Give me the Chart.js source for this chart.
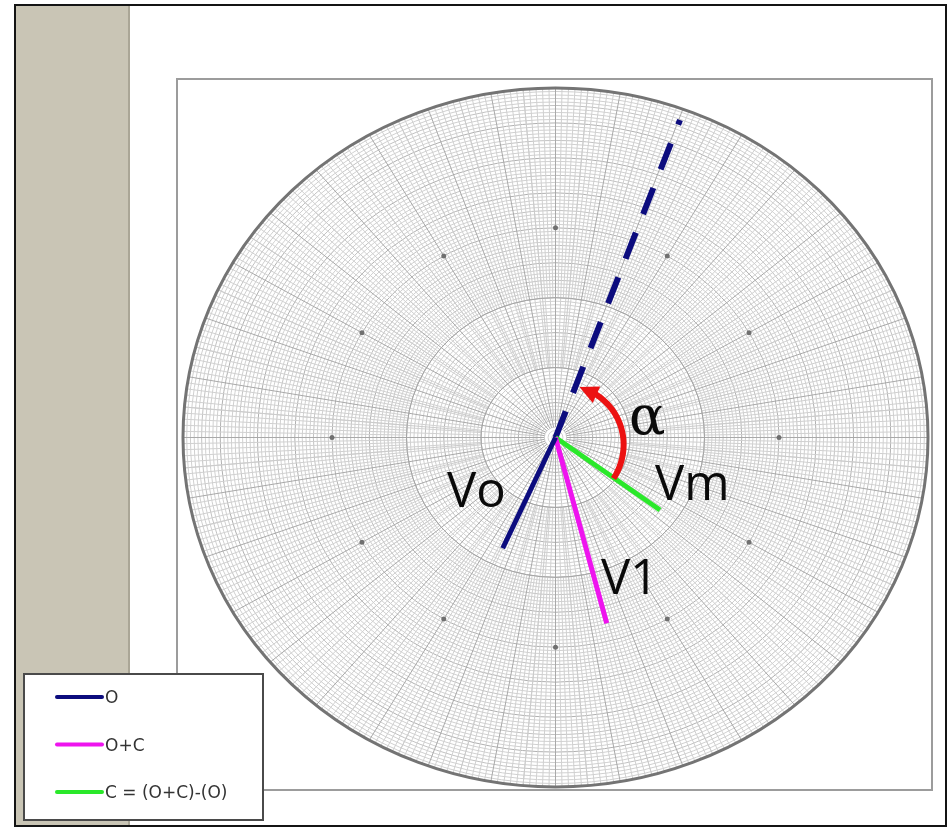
<!DOCTYPE html>
<html>
<head>
<meta charset="utf-8">
<script src="https://cdn.jsdelivr.net/npm/chart.js@4/dist/chart.umd.min.js"></script>
<style>
  html, body { margin: 0; padding: 0; background: #fff; width: 951px; height: 827px; overflow: hidden; }
  #frame { position: absolute; left: 14px; top: 4px; width: 929px; height: 819px; border: 2px solid #141414; }
  #side { position: absolute; left: 16px; top: 6px; width: 112px; height: 819px; background: #c9c5b5; border-right: 2px solid #aaa696; }
  #plotbox { position: absolute; left: 176px; top: 78px; width: 753px; height: 709px; border: 2px solid #9c9c9c; }
  canvas { position: absolute; left: 0; top: 0; }
</style>
</head>
<body>
<div id="frame"></div>
<div id="side"></div>
<div id="plotbox"></div>
<canvas id="polar" width="951" height="827"></canvas>
<script>
// Vectors, as magnitude (fraction of the outer circle) and angle (degrees, counter-clockwise from +x)
const vectorNames = ['O', 'O+C', 'C = (O+C)-(O)'];
const vectorMagnitudes = [0.347, 0.549, 0.349];
const vectorAnglesDeg = [245.9, 284.5, 323.5];
const vectorColors = ['#0c0c7e', '#ee14ee', '#2ae82a'];

// Dashed reference direction
const referenceMagnitude = 0.968;
const referenceAngleDeg = 69.8;

// Angle α arc: start/end angle and radius at each end
const alphaArcDeg = [-37, 66];
const alphaArcRadius = [0.195, 0.158];

// Vector labels
const labelTexts = ['Vo', 'Vm', 'V1', '\u03b1'];

// Polar grid layout
const ringStep = 0.01;
const dotRadius = 0.6;
const dotStepDeg = 30;

const rad = d => d * Math.PI / 180;
const tip = (m, a) => ({ x: m * Math.cos(rad(a)), y: m * Math.sin(rad(a)) });

const datasets = vectorNames.map((name, i) => ({
  label: name,
  data: [{ x: 0, y: 0 }, tip(vectorMagnitudes[i], vectorAnglesDeg[i])],
  borderColor: vectorColors[i],
  backgroundColor: vectorColors[i],
  borderWidth: 5,
  showLine: true,
  inLegend: true
}));
datasets.push({
  label: 'O (reference)',
  data: [{ x: 0, y: 0 }, tip(referenceMagnitude, referenceAngleDeg)],
  borderColor: vectorColors[0],
  borderWidth: 6,
  borderDash: [28, 20],
  showLine: true,
  inLegend: false
});

const labelStyle = {
  'Vo': { at: [-0.291, -0.199], font: '49px "Open Sans"' },
  'Vm': { at: [0.267, -0.179], font: '49px "Open Sans"' },
  'V1': { at: [0.122, -0.448], font: '49px "Open Sans"' },
  '\u03b1': { at: [0.197, 0.010], font: '54px "DejaVu Serif"' }
};

function frameOf(chart) {
  const xs = chart.scales.x, ys = chart.scales.y;
  const cx = xs.getPixelForValue(0), cy = ys.getPixelForValue(0);
  return {
    cx, cy,
    kx: xs.getPixelForValue(1) - cx,
    ky: cy - ys.getPixelForValue(1),
    px: (x, y) => [xs.getPixelForValue(x), ys.getPixelForValue(y)]
  };
}

const polarGrid = {
  id: 'polarGrid',
  beforeDatasetsDraw(chart) {
    const { ctx } = chart;
    const f = frameOf(chart);
    ctx.save();
    ctx.lineWidth = 1;

    // concentric rings
    const nRings = Math.round(1 / ringStep);
    const ringGroups = [
      ['#d0d0d0', i => i % 5 !== 0],
      ['#c2c2c2', i => i % 5 === 0 && i % 10 !== 0],
      ['#b0b0b0', i => i % 10 === 0]
    ];
    ringGroups.forEach(([color, test]) => {
      ctx.beginPath();
      for (let i = 1; i < nRings; i++) {
        if (!test(i)) continue;
        const r = i * ringStep;
        ctx.moveTo(f.cx + f.kx * r, f.cy);
        ctx.ellipse(f.cx, f.cy, f.kx * r, f.ky * r, 0, 0, Math.PI * 2);
      }
      ctx.strokeStyle = color;
      ctx.stroke();
    });

    // radial spokes: denser further out
    const spoke = (stepDeg, r0, r1, color, skip) => {
      ctx.beginPath();
      for (let a = 0; a < 360; a += stepDeg) {
        if (skip && a % skip === 0) continue;
        const c = Math.cos(rad(a)), s = Math.sin(rad(a));
        ctx.moveTo(f.cx + f.kx * r0 * c, f.cy - f.ky * r0 * s);
        ctx.lineTo(f.cx + f.kx * r1 * c, f.cy - f.ky * r1 * s);
      }
      ctx.strokeStyle = color;
      ctx.stroke();
    };
    spoke(1, 0.4, 1, '#d0d0d0', 2);
    spoke(2, 0.2, 1, '#d0d0d0', 10);
    spoke(5, 0.05, 1, '#cbcbcb', 10);
    spoke(10, 0.03, 1, '#a9a9a9', 0);

    // zone boundaries
    ctx.strokeStyle = '#a4a4a4';
    [0.2, 0.4].forEach(r => {
      ctx.beginPath();
      ctx.ellipse(f.cx, f.cy, f.kx * r, f.ky * r, 0, 0, Math.PI * 2);
      ctx.stroke();
    });

    // marker dots
    ctx.fillStyle = '#707070';
    for (let a = 0; a < 360; a += dotStepDeg) {
      ctx.beginPath();
      ctx.arc(f.cx + f.kx * dotRadius * Math.cos(rad(a)), f.cy - f.ky * dotRadius * Math.sin(rad(a)), 2.5, 0, Math.PI * 2);
      ctx.fill();
    }

    // outer circle
    ctx.beginPath();
    ctx.ellipse(f.cx, f.cy, f.kx, f.ky, 0, 0, Math.PI * 2);
    ctx.strokeStyle = '#747474';
    ctx.lineWidth = 3;
    ctx.stroke();
    ctx.restore();
  }
};

const annotations = {
  id: 'annotations',
  afterDatasetsDraw(chart) {
    const { ctx } = chart;
    const f = frameOf(chart);
    ctx.save();

    // α arc with arrowhead
    const [a0, a1] = alphaArcDeg, [r0, r1] = alphaArcRadius;
    const at = a => {
      const r = r0 + (r1 - r0) * (a - a0) / (a1 - a0);
      return f.px(r * Math.cos(rad(a)), r * Math.sin(rad(a)));
    };
    const headBase = a1 - 18;
    ctx.strokeStyle = '#ec1212';
    ctx.fillStyle = '#ec1212';
    ctx.lineWidth = 6;
    ctx.lineCap = 'butt';
    ctx.beginPath();
    for (let a = a0; a <= headBase + 2; a += 1) {
      const [x, y] = at(a);
      if (a === a0) ctx.moveTo(x, y); else ctx.lineTo(x, y);
    }
    ctx.stroke();
    const [bx, by] = at(headBase), [tx, ty] = at(a1);
    const dx = tx - bx, dy = ty - by, len = Math.hypot(dx, dy);
    const nx = -dy / len, ny = dx / len, w = 9;
    ctx.beginPath();
    ctx.moveTo(tx, ty);
    ctx.lineTo(bx + nx * w, by + ny * w);
    ctx.lineTo(bx - nx * w, by - ny * w);
    ctx.closePath();
    ctx.fill();

    // vector labels
    ctx.fillStyle = '#0a0a0a';
    ctx.textBaseline = 'alphabetic';
    ctx.textAlign = 'left';
    labelTexts.forEach(t => {
      const s = labelStyle[t];
      const [x, y] = f.px(s.at[0], s.at[1]);
      ctx.font = s.font;
      ctx.fillText(t, x, y);
    });
    ctx.restore();
  },
  afterDraw(chart) {
    // legend box
    const { ctx } = chart;
    ctx.save();
    ctx.fillStyle = '#fff';
    ctx.fillRect(24, 674, 239, 146);
    ctx.strokeStyle = '#4a4a4a';
    ctx.lineWidth = 2;
    ctx.strokeRect(24, 674, 239, 146);
    ctx.font = '17px "DejaVu Sans"';
    ctx.textBaseline = 'middle';
    ctx.textAlign = 'left';
    chart.data.datasets.filter(d => d.inLegend).forEach((d, i) => {
      const y = 697 + i * 47.5;
      ctx.strokeStyle = d.borderColor;
      ctx.lineWidth = 4;
      ctx.lineCap = 'round';
      ctx.beginPath();
      ctx.moveTo(57, y);
      ctx.lineTo(102, y);
      ctx.stroke();
      ctx.fillStyle = '#333';
      ctx.fillText(d.label, 105, y + 2);
    });
    ctx.restore();
  }
};

new Chart(document.getElementById('polar'), {
  type: 'scatter',
  data: { datasets },
  options: {
    responsive: false,
    animation: false,
    devicePixelRatio: 1,
    layout: { padding: { left: 183, right: 23, top: 88, bottom: 40 } },
    scales: {
      x: { type: 'linear', min: -1, max: 1, display: false },
      y: { type: 'linear', min: -1, max: 1, display: false }
    },
    elements: { point: { radius: 0, hoverRadius: 0 }, line: { borderCapStyle: 'butt' } },
    plugins: { legend: { display: false }, tooltip: { enabled: false } }
  },
  plugins: [polarGrid, annotations]
});
</script>
</body>
</html>
